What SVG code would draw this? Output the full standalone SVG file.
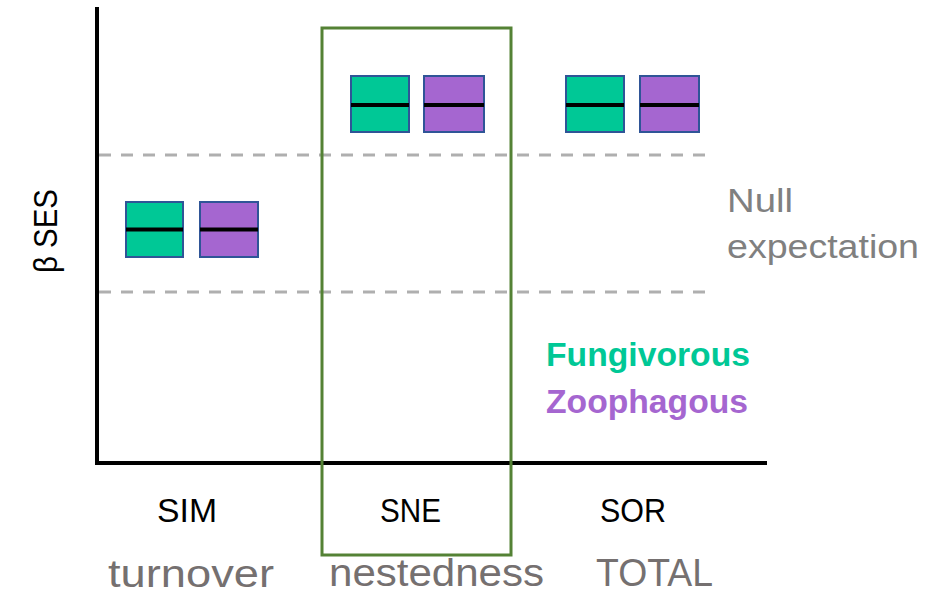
<svg xmlns="http://www.w3.org/2000/svg" width="946" height="595" viewBox="0 0 946 595">
<style>
text{font-family:"Liberation Sans",Arial,sans-serif}
.f{fill:#00C896;stroke:#2F5597;stroke-width:2}
.z{fill:#A566D0;stroke:#2F5597;stroke-width:2}
.med{stroke:#000;stroke-width:4}
.dash{stroke:#AFAFAF;stroke-width:3;stroke-dasharray:12 10;fill:none}
.ax{stroke:#000;stroke-width:4;fill:none}
.lbl{font-size:33px;fill:#000}
.sub{font-size:39px;fill:#757070}
.gray{font-size:34px;fill:#808080}
</style>
<rect width="946" height="595" fill="#fff"/>
<g id="connectors">
<line class="dash" x1="99" y1="155" x2="710" y2="155"/>
<line class="dash" x1="99" y1="292" x2="710" y2="292"/>
<polyline class="ax" points="97,7 97,463 767,463"/>
</g>
<g id="highlight">
<rect x="322" y="28" width="189" height="527" fill="none" stroke="#548235" stroke-width="3"/>
</g>
<g id="sim-boxes">
<rect class="f" x="126" y="202" width="57" height="55"/>
<line class="med" x1="126" y1="229.5" x2="183" y2="229.5"/>
<rect class="z" x="200" y="202" width="58" height="55"/>
<line class="med" x1="200" y1="229.5" x2="258" y2="229.5"/>
</g>
<g id="sne-boxes">
<rect class="f" x="351" y="76" width="58" height="56"/>
<line class="med" x1="351" y1="105" x2="409" y2="105"/>
<rect class="z" x="424" y="76" width="60" height="56"/>
<line class="med" x1="424" y1="105" x2="484" y2="105"/>
</g>
<g id="sor-boxes">
<rect class="f" x="566" y="76" width="58" height="56"/>
<line class="med" x1="566" y1="105" x2="624" y2="105"/>
<rect class="z" x="640" y="76" width="59" height="56"/>
<line class="med" x1="640" y1="105" x2="699" y2="105"/>
</g>
<g id="y-label">
<text class="lbl" transform="translate(57,231) rotate(-90)" text-anchor="middle" textLength="84" lengthAdjust="spacingAndGlyphs">β SES</text>
</g>
<g id="null-label">
<text class="gray" x="727" y="212" textLength="66" lengthAdjust="spacingAndGlyphs">Null</text>
<text class="gray" x="727" y="258" textLength="192" lengthAdjust="spacingAndGlyphs">expectation</text>
</g>
<g id="legend">
<text x="546" y="366" font-size="34" font-weight="bold" fill="#00C896" textLength="204" lengthAdjust="spacingAndGlyphs">Fungivorous</text>
<text x="546" y="413" font-size="34" font-weight="bold" fill="#A566D0" textLength="202" lengthAdjust="spacingAndGlyphs">Zoophagous</text>
</g>
<g id="x-labels">
<text class="lbl" x="157" y="522" textLength="60" lengthAdjust="spacingAndGlyphs">SIM</text>
<text class="lbl" x="380" y="522" textLength="61" lengthAdjust="spacingAndGlyphs">SNE</text>
<text class="lbl" x="600" y="522" textLength="66" lengthAdjust="spacingAndGlyphs">SOR</text>
<text class="sub" x="108" y="587" textLength="166" lengthAdjust="spacingAndGlyphs">turnover</text>
<text class="sub" x="329" y="586" textLength="215" lengthAdjust="spacingAndGlyphs">nestedness</text>
<text class="sub" x="596" y="586" textLength="117" lengthAdjust="spacingAndGlyphs">TOTAL</text>
</g>
</svg>
